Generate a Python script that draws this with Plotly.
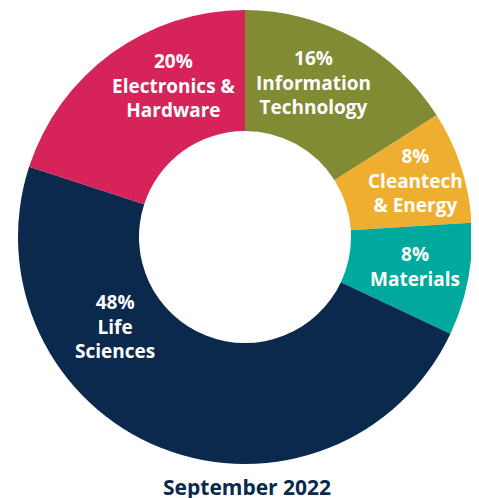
import plotly.graph_objects as go

categories = ["Information<br>Technology", "Cleantech<br>& Energy", "Materials",
              "Life<br>Sciences", "Electronics &<br>Hardware"]
shares = [16, 8, 8, 48, 20]
colors = ["#808B33", "#EEAF30", "#00A99D", "#0B284D", "#D6245A"]
title_text = "September 2022"

# label anchor points (screen pixels, top-left origin)
label_px = [313, 415, 415, 115, 174]
label_py = [82, 180, 266, 326, 85]

OFF = 8                     # default page body margin
W, H = 471, 490
cx, cy, r = 245 - OFF, 237 - OFF, 227

fig = go.Figure(go.Pie(
    labels=categories,
    values=shares,
    hole=0.467,
    sort=False,
    direction="clockwise",
    rotation=0,
    marker=dict(colors=colors, line=dict(width=0)),
    textinfo="none",
    hoverinfo="label+percent",
    showlegend=False,
    domain=dict(x=[(cx - r) / W, (cx + r) / W],
                y=[(H - cy - r) / H, (H - cy + r) / H]),
))

annotations = []
for lab, val, px, py in zip(categories, shares, label_px, label_py):
    annotations.append(dict(
        text=f"<b>{val}%<br>{lab}</b>",
        x=(px - OFF) / W, xref="paper", xanchor="center",
        y=1 - (py - OFF) / H, yref="paper", yanchor="middle",
        showarrow=False, align="center",
        font=dict(family="Open Sans", size=19, color="white"),
    ))
annotations.append(dict(
    text="<b>" + title_text + "</b>",
    x=(247 - OFF) / W, xref="paper", xanchor="center",
    y=1 - (487 - OFF) / H, yref="paper", yanchor="middle",
    showarrow=False,
    font=dict(family="Open Sans", size=21, color="#0B284D"),
))

fig.update_layout(
    width=W, height=H,
    margin=dict(l=0, r=0, t=0, b=0),
    paper_bgcolor="white",
    plot_bgcolor="white",
    annotations=annotations,
)

fig.write_html("out.html")
